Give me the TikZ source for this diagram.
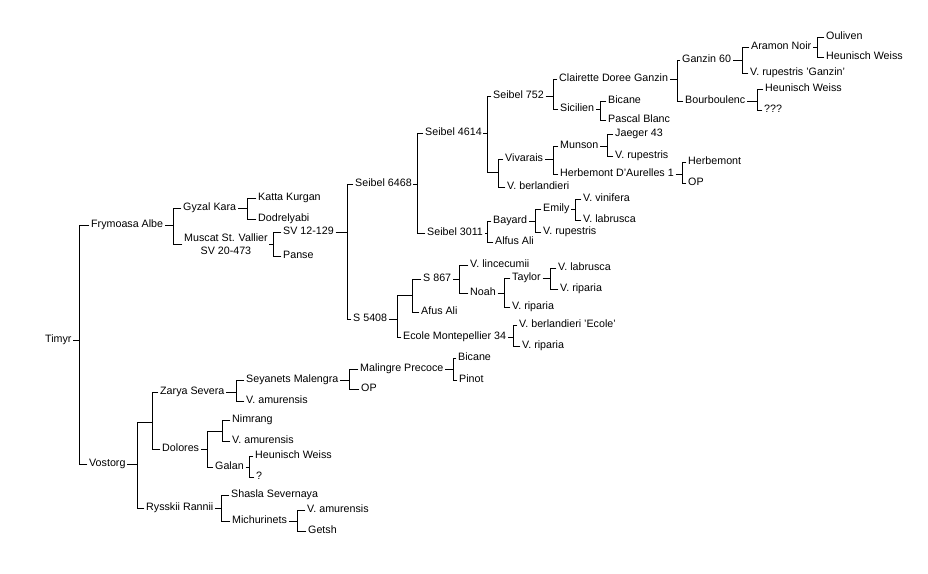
\documentclass[tikz,border=0pt]{standalone}
\usepackage{fontspec}
\setmainfont{Liberation Sans}
\usepackage{tikz}
\usetikzlibrary{calc}
\usetikzlibrary{positioning}

% un croisement : parent, abscisse de la barre, deux enfants
\newcommand\croise[4]{%
  \coordinate (bar#1) at (#2,0);
  \draw[link] (#1.east) -- (#1.east -| bar#1) |- (#3.west)
              (#1.east -| bar#1) |- (#4.west);}

\begin{document}
\begin{tikzpicture}[x=1pt,y=-1pt,
  base/.style={anchor=west, inner xsep=2pt, inner ysep=1pt, xshift=-2pt,
               font=\fontsize{10.7}{13.5}\selectfont},
  cultivar/.style={base, text height=7.7pt, text depth=2.2pt},
  junc/.style={inner sep=0pt, minimum size=0pt},
  link/.style={line width=\light, line cap=rect}]

%%%%%%%%%%%%%%%%%%%%%%
%%%	   Def style    %%%
%%%%%%%%%%%%%%%%%%%%%%

\def \light{0.9pt}

\useasboundingbox (0,0) rectangle (928,573);

%%%%%%%%%%%%%%%%%%%%%%
%%%	    Noeuds      %%%
%%%%%%%%%%%%%%%%%%%%%%

\node[cultivar] (timyr) at (45,340) {Timyr};
\node[cultivar] (fa) at (91,225) {Frymoasa Albe};
\node[cultivar] (vos) at (89,464) {Vostorg};

% branche Frymoasa Albe
\node[cultivar] (gk) at (183,208) {Gyzal Kara};
\node[base, align=center] (msv) at (184,244) {Muscat St. Vallier\\SV 20-473};
\node[cultivar] (kk) at (258,198) {Katta Kurgan};
\node[cultivar] (dod) at (258,219) {Dodrelyabi};
\node[cultivar] (sv12) at (283,232) {SV 12-129};
\node[cultivar] (panse) at (283,256) {Panse};
\node[cultivar] (s6468) at (355,184) {Seibel 6468};
\node[cultivar] (s5408) at (353,319) {S 5408};

% Seibel 6468
\node[cultivar] (s4614) at (425,133) {Seibel 4614};
\node[cultivar] (s3011) at (427,233) {Seibel 3011};
\node[cultivar] (s752) at (493,96) {Seibel 752};
\node[junc] (j4614) at (498,172) {};
\node[cultivar] (viv) at (505,159) {Vivarais};
\node[cultivar] (vberl) at (507,187) {V. berlandieri};
\node[cultivar] (cdg) at (559,79) {Clairette Doree Ganzin};
\node[cultivar] (sic) at (560,109) {Sicilien};
\node[cultivar] (g60) at (682,60) {Ganzin 60};
\node[cultivar] (bourb) at (685,101) {Bourboulenc};
\node[cultivar] (an) at (751,47) {Aramon Noir};
\node[cultivar] (vrg) at (750,73) {V. rupestris 'Ganzin'};
\node[cultivar] (oul) at (826,37) {Ouliven};
\node[cultivar] (hw1) at (826,57) {Heunisch Weiss};
\node[cultivar] (hw2) at (765,89) {Heunisch Weiss};
\node[cultivar] (qqq) at (764,110) {???};
\node[cultivar] (bic1) at (608,101) {Bicane};
\node[cultivar] (pb) at (608,120) {Pascal Blanc};
\node[cultivar] (mun) at (560,146) {Munson};
\node[cultivar] (hda) at (560,174) {Herbemont D'Aurelles 1};
\node[cultivar] (j43) at (615,134) {Jaeger 43};
\node[cultivar] (vrup1) at (615,156) {V. rupestris};
\node[cultivar] (herb) at (688,162) {Herbemont};
\node[cultivar] (op1) at (688,183) {OP};
\node[cultivar] (bay) at (493,221) {Bayard};
\node[cultivar] (aa1) at (495,242) {Alfus Ali};
\node[cultivar] (emily) at (543,209) {Emily};
\node[cultivar] (vrup2) at (543,232) {V. rupestris};
\node[cultivar] (vvin) at (583,199) {V. vinifera};
\node[cultivar] (vlab1) at (583,220) {V. labrusca};

% S 5408
\node[junc] (j5408) at (412,295) {};
\node[cultivar] (s867) at (423,279) {S 867};
\node[cultivar] (afus) at (421,312) {Afus Ali};
\node[cultivar] (ecole) at (403,337) {Ecole Montepellier 34};
\node[cultivar] (vlin) at (470,265) {V. lincecumii};
\node[cultivar] (noah) at (470,293) {Noah};
\node[cultivar] (taylor) at (512,278) {Taylor};
\node[cultivar] (vrip1) at (512,307) {V. riparia};
\node[cultivar] (vlab2) at (558,268) {V. labrusca};
\node[cultivar] (vrip2) at (560,289) {V. riparia};
\node[cultivar] (vbe) at (519,325) {V. berlandieri 'Ecole'};
\node[cultivar] (vrip3) at (522,346) {V. riparia};

% branche Vostorg
\node[junc] (jvos) at (152,422) {};
\node[cultivar] (zs) at (160,392) {Zarya Severa};
\node[cultivar] (dol) at (162,449) {Dolores};
\node[cultivar] (rr) at (146,508) {Rysskii Rannii};
\node[cultivar] (sm) at (246,380) {Seyanets Malengra};
\node[cultivar] (vam1) at (246,401) {V. amurensis};
\node[cultivar] (mp) at (360,369) {Malingre Precoce};
\node[cultivar] (op2) at (361,389) {OP};
\node[cultivar] (bic2) at (458,358) {Bicane};
\node[cultivar] (pinot) at (459,380) {Pinot};
\node[junc] (jdol) at (222,431) {};
\node[cultivar] (nim) at (232,420) {Nimrang};
\node[cultivar] (vam2) at (232,441) {V. amurensis};
\node[cultivar] (galan) at (215,467) {Galan};
\node[cultivar] (hw3) at (255,456) {Heunisch Weiss};
\node[cultivar] (q) at (256,477) {?};
\node[cultivar] (ss) at (231,495) {Shasla Severnaya};
\node[cultivar] (mich) at (232,521) {Michurinets};
\node[cultivar] (vam3) at (307,510) {V. amurensis};
\node[cultivar] (getsh) at (308,531) {Getsh};

%%%%%%%%%%%%%%%%%%%%%%
%%%	    Liens       %%%
%%%%%%%%%%%%%%%%%%%%%%

\croise{timyr}{79}{fa}{vos}
\croise{fa}{173}{gk}{msv}
\croise{gk}{247}{kk}{dod}
\croise{msv}{273}{sv12}{panse}
\croise{sv12}{347}{s6468}{s5408}
\croise{s6468}{417}{s4614}{s3011}
\croise{s4614}{487}{s752}{j4614}
\croise{j4614}{498}{viv}{vberl}
\croise{s752}{553}{cdg}{sic}
\croise{cdg}{677}{g60}{bourb}
\croise{g60}{742}{an}{vrg}
\croise{an}{817}{oul}{hw1}
\croise{bourb}{757}{hw2}{qqq}
\croise{sic}{600}{bic1}{pb}
\croise{viv}{553}{mun}{hda}
\croise{mun}{607}{j43}{vrup1}
\croise{hda}{682}{herb}{op1}
\croise{s3011}{487}{bay}{aa1}
\croise{bay}{535}{emily}{vrup2}
\croise{emily}{575}{vvin}{vlab1}

\croise{s5408}{397}{j5408}{ecole}
\croise{j5408}{412}{s867}{afus}
\croise{s867}{459}{vlin}{noah}
\croise{noah}{504}{taylor}{vrip1}
\croise{taylor}{550}{vlab2}{vrip2}
\croise{ecole}{513}{vbe}{vrip3}

\croise{vos}{137}{jvos}{rr}
\croise{jvos}{152}{zs}{dol}
\croise{zs}{236}{sm}{vam1}
\croise{sm}{349}{mp}{op2}
\croise{mp}{453}{bic2}{pinot}
\croise{dol}{207}{jdol}{galan}
\croise{jdol}{222}{nim}{vam2}
\croise{galan}{249}{hw3}{q}
\croise{rr}{221}{ss}{mich}
\croise{mich}{297}{vam3}{getsh}

\end{tikzpicture}
\end{document}
